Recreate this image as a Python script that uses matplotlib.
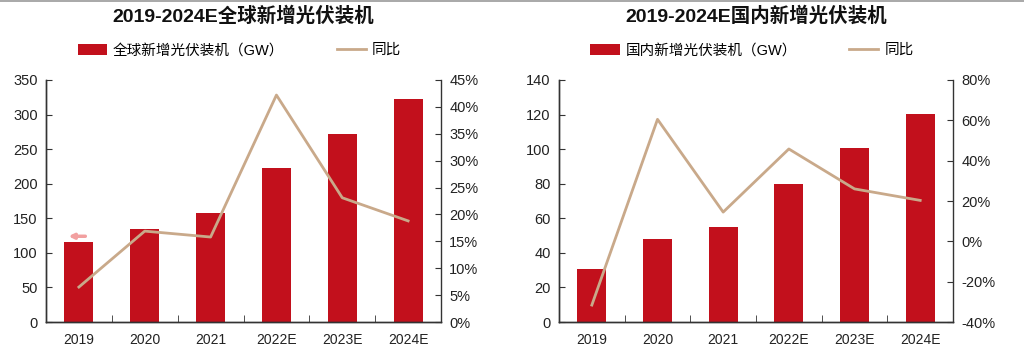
import matplotlib
matplotlib.use("Agg")
import matplotlib.pyplot as plt
import matplotlib.ticker as mpltick
import numpy as np

plt.rcParams["font.family"] = ["Liberation Sans", "Noto Sans CJK SC"]

# Data
years = ["2019", "2020", "2021", "2022E", "2023E", "2024E"]
global_gw = [115, 134, 157, 223, 272, 322]
global_yoy = [6.5, 16.9, 15.8, 42.2, 23.1, 18.8]
china_gw = [30.5, 48.2, 54.9, 80, 100.5, 120.5]
china_yoy = [-31.6, 60.5, 14.5, 45.8, 26.0, 20.3]

titles = ["2019-2024E全球新增光伏装机", "2019-2024E国内新增光伏装机"]
bar_labels = ["全球新增光伏装机（GW）", "国内新增光伏装机（GW）"]
line_label = "同比"

bar_color = "#C2101C"
line_color = "#C9A98A"
spine_color = "#333333"

fig = plt.figure(figsize=(10.24, 3.51), dpi=100)
positions = [[0.0449, 0.0826, 0.3858, 0.6895], [0.5459, 0.0826, 0.3848, 0.6895]]
setups = [
    (global_gw, global_yoy, (0, 350), 50, (0, 45), 5),
    (china_gw, china_yoy, (0, 140), 20, (-40, 80), 20),
]

x = np.arange(len(years))
for k, (pos, (bars, yoy, ylim, ystep, y2lim, y2step)) in enumerate(zip(positions, setups)):
    ax = fig.add_axes(pos)
    ax2 = ax.twinx()
    b = ax.bar(x, bars, width=0.44, color=bar_color, label=bar_labels[k], zorder=2)
    (ln,) = ax2.plot(x, yoy, color=line_color, lw=2.0, label=line_label, zorder=3)

    ax.set_xlim(-0.5, len(years) - 0.5)
    ax.set_ylim(*ylim)
    ax.yaxis.set_major_locator(mpltick.MultipleLocator(ystep))
    ax2.set_ylim(*y2lim)
    ax2.yaxis.set_major_locator(mpltick.MultipleLocator(y2step))
    ax2.yaxis.set_major_formatter(mpltick.FuncFormatter(lambda v, p: f"{v:.0f}%"))

    # x ticks at category borders, labels at centres
    ax.set_xticks(x)
    ax.set_xticklabels(years, fontsize=10, color="#222222")
    ax.set_xticks(np.arange(-0.5, len(years) + 0.5), minor=True)
    ax.tick_params(axis="x", which="major", length=0, pad=8)
    ax.tick_params(axis="x", which="minor", direction="in", length=5, color=spine_color)
    ax.tick_params(axis="y", direction="in", length=4, labelsize=10.5,
                   color=spine_color, labelcolor="#222222", pad=6)
    ax2.tick_params(axis="y", direction="in", length=4, labelsize=10.5,
                    color=spine_color, labelcolor="#222222", pad=6)

    for a in (ax, ax2):
        a.spines["top"].set_visible(False)
        for s in ("left", "right", "bottom"):
            a.spines[s].set_color(spine_color)
            a.spines[s].set_linewidth(1.0)
    ax.spines["right"].set_visible(False)

    cx = pos[0] + pos[2] / 2
    fig.text(cx, 0.955, titles[k], ha="center", va="center", fontsize=14,
             fontweight="bold", color="#111111")
    fig.legend([b, ln], [bar_labels[k], line_label], loc="center",
               bbox_to_anchor=(cx - 0.004, 0.857), ncol=2, frameon=False, fontsize=10.5,
               handlelength=2.0, handleheight=0.8, columnspacing=3.6,
               handletextpad=0.4)

    if k == 0:
        ax.annotate("", xy=(x[0] - 0.2, bars[0] + 9), xytext=(x[0] + 0.14, bars[0] + 9),
                    arrowprops=dict(arrowstyle="-|>", color="#F2A0A0", lw=2.5,
                                    mutation_scale=7), zorder=4)

fig.add_artist(plt.Line2D([0, 1], [0.998, 0.998], color="#999999", lw=1.2))
fig.savefig("out.png", dpi=100)
